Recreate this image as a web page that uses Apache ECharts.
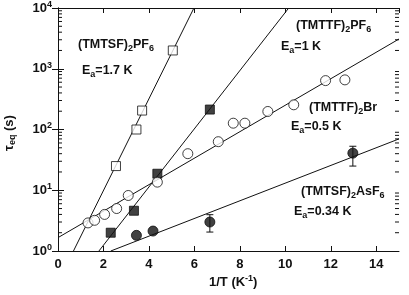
<!DOCTYPE html>
<html><head><meta charset="utf-8">
<script src="https://cdn.jsdelivr.net/npm/echarts@6/dist/echarts.min.js"></script>
<style>html,body{margin:0;padding:0;background:#fff}#c{width:409px;height:295px}</style>
</head><body><div id="c"></div>
<script>
// ---- data ----
const tmtsfPF6 = [[2.55,25],[3.45,100],[3.7,205],[5.05,2000]];
const tmttfPF6 = [[2.32,2.0],[3.34,4.6],[4.37,18.7],[6.68,213]];
const tmttfBr = [[1.32,2.9],[1.61,3.2],[2.05,4.0],[2.58,5.0],[3.09,8.2],[4.37,13.6],[5.71,40],[7.05,63],[7.71,127],[8.22,127],[9.23,198],[10.37,255],[11.77,638],[12.62,656]];
const tmtsfAsF6 = [[3.45,1.81],[4.18,2.13],[6.68,3.0],[12.97,40.8]];
const asf6ErrBars = [[6.68,2.05,3.96],[12.97,25,53]];
// fit lines (end points)
const fitTmtsfPF6 = [[0.68,1],[5.98,10000]];
const fitTmttfPF6 = [[1.80,1],[10.15,10000]];
const fitTmttfBr = [[0,1.66],[15,3090]];
const fitTmtsfAsF6 = [[2.32,1],[15,70]];
const xTicks = [0,2,4,6,8,10,12,14];
const yDecades = [1,10,100,1000,10000];
const yMinor = [];
[1,10,100,1000].forEach(d=>{[2,3,4,5,6,7,8,9].forEach(m=>yMinor.push(d*m));});

const chart = echarts.init(document.getElementById('c'), null, {renderer:'canvas'});
const FONT = 'Liberation Sans';
const black = '#111';
function lineSeries(d){return {type:'line',data:d,symbol:'none',lineStyle:{color:black,width:1},silent:true,z:1,clip:true,xAxisIndex:0,yAxisIndex:0};}
const sub = {fontSize:9,fontWeight:'bold',fontFamily:FONT,color:black,padding:[8,0,0,0]};
const txt = {fontSize:12.5,fontWeight:'bold',fontFamily:FONT,color:black};
function label(x,y,str){
  return {type:'text',left:x,top:y,style:{text:str,font:'bold 12.5px '+FONT,fill:black,rich:{n:txt,s:sub}}};
}
const option = {
  backgroundColor:'#fff',
  animation:false,
  grid:{left:58,right:10,top:7,bottom:44,containLabel:false},
  xAxis:[{type:'value',min:0,max:15,interval:2,position:'bottom',
    axisLine:{show:true,lineStyle:{color:black,width:1}},
    axisTick:{show:true,inside:true,length:5,lineStyle:{color:black}},
    axisLabel:{showMaxLabel:false,fontFamily:FONT,fontSize:13,fontWeight:'bold',color:black,margin:7},
    splitLine:{show:false}},
   {type:'value',min:0,max:15,interval:2,position:'top',
    axisLine:{show:true,lineStyle:{color:black,width:1}},
    axisTick:{show:true,inside:true,length:5,lineStyle:{color:black}},
    axisLabel:{show:false},splitLine:{show:false}}],
  yAxis:[{type:'log',logBase:10,min:1,max:10000,position:'left',
    axisLine:{show:true,lineStyle:{color:black,width:1}},
    axisTick:{show:true,inside:true,length:6,lineStyle:{color:black}},
    axisLabel:{fontFamily:FONT,color:black,margin:6,
      formatter:function(v){return '{b|10}{s|'+Math.round(Math.log10(v))+'}';},
      rich:{b:{fontSize:13,fontWeight:'bold',fontFamily:FONT,color:black},
            s:{fontSize:9,fontWeight:'bold',fontFamily:FONT,color:black,padding:[0,0,7,0]}}},
    splitLine:{show:false}},
   {type:'log',logBase:10,min:1,max:10000,position:'right',
    axisLine:{show:true,lineStyle:{color:black,width:1}},
    axisTick:{show:true,inside:true,length:6,lineStyle:{color:black}},
    axisLabel:{show:false},splitLine:{show:false}}],
  graphic:[
    label(78,38,'(TMTSF){s|2}PF{s|6}'),
    label(82,64,'E{s|a}=1.7 K'),
    label(296,19,'(TMTTF){s|2}PF{s|6}'),
    label(281,40,'E{s|a}=1 K'),
    label(309,101,'(TMTTF){s|2}Br'),
    label(291,120,'E{s|a}=0.5 K'),
    label(301,185,'(TMTSF){s|2}AsF{s|6}'),
    label(294,205,'E{s|a}=0.34 K'),
    {type:'text',left:209,top:274,style:{text:'1/T (K{s|-1})',font:'bold 13px '+FONT,fill:black,
      rich:{s:{fontSize:9,fontWeight:'bold',fontFamily:FONT,color:black,padding:[0,0,7,0]}}}},
    {type:'text',x:9,y:133,rotation:Math.PI/2,style:{text:'τ{s|eq} (s)',font:'bold 13px '+FONT,fill:black,align:'center',verticalAlign:'middle',
      rich:{s:{fontSize:9,fontWeight:'bold',fontFamily:FONT,color:black,padding:[7,0,0,0]}}}}
  ],
  series:[
    lineSeries(fitTmtsfPF6),
    lineSeries(fitTmttfPF6),
    lineSeries(fitTmttfBr),
    lineSeries(fitTmtsfAsF6),
    {type:'custom',silent:true,z:2,clip:false,data:yMinor.map(v=>[0,v]),
     renderItem:function(params,api){
       const v=api.value(1);
       const l=api.coord([0,v]); const r=api.coord([15,v]);
       return {type:'group',children:[
         {type:'line',shape:{x1:l[0],y1:l[1],x2:l[0]+4,y2:l[1]},style:{stroke:black,lineWidth:1}},
         {type:'line',shape:{x1:r[0],y1:r[1],x2:r[0]-4,y2:r[1]},style:{stroke:black,lineWidth:1}}]};
     }},
    {type:'custom',silent:true,z:3,data:asf6ErrBars,
     renderItem:function(params,api){
       const x=api.value(0);
       const lo=api.coord([x,api.value(1)]); const hi=api.coord([x,api.value(2)]);
       const w=3.5;
       return {type:'group',children:[
         {type:'line',shape:{x1:lo[0],y1:lo[1],x2:hi[0],y2:hi[1]},style:{stroke:black,lineWidth:1}},
         {type:'line',shape:{x1:lo[0]-w,y1:lo[1],x2:lo[0]+w,y2:lo[1]},style:{stroke:black,lineWidth:1}},
         {type:'line',shape:{x1:hi[0]-w,y1:hi[1],x2:hi[0]+w,y2:hi[1]},style:{stroke:black,lineWidth:1}}]};
     }},
    {type:'scatter',data:tmtsfPF6,symbol:'rect',symbolSize:9,itemStyle:{color:'#fff',borderColor:black,borderWidth:1},z:5},
    {type:'scatter',data:tmttfPF6,symbol:'rect',symbolSize:9,itemStyle:{color:black,borderColor:black,borderWidth:1},z:5},
    {type:'scatter',data:tmttfBr,symbol:'circle',symbolSize:10,itemStyle:{color:'#fff',borderColor:black,borderWidth:1},z:5},
    {type:'scatter',data:tmtsfAsF6,symbol:'circle',symbolSize:10,itemStyle:{color:black,borderColor:black,borderWidth:1},z:5}
  ]
};
chart.setOption(option);
</script></body></html>
